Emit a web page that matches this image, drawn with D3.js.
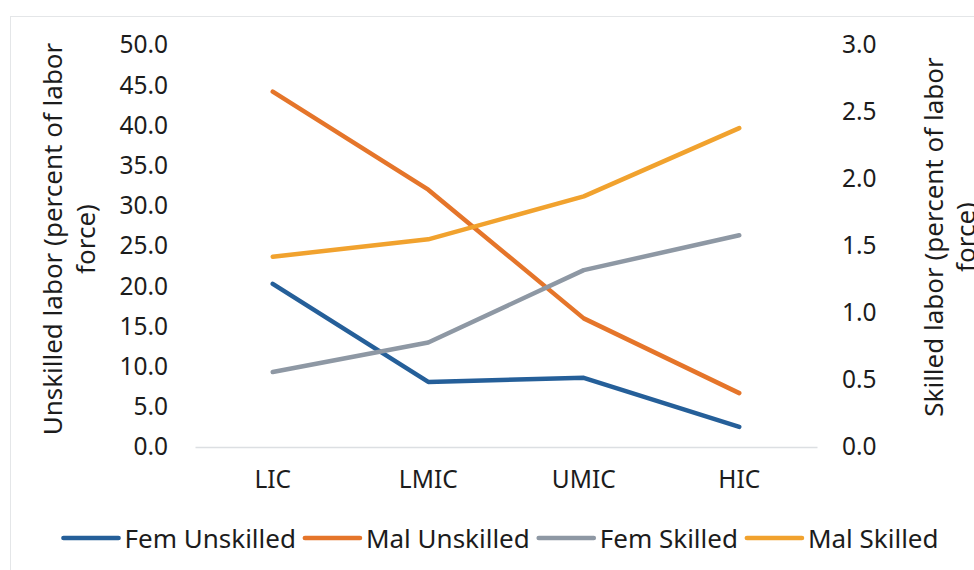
<!DOCTYPE html>
<html>
<head>
<meta charset="utf-8">
<script src="https://cdn.jsdelivr.net/npm/d3@7"></script>
<style>
  html, body { margin: 0; padding: 0; background: #fff; }
  svg { display: block; }
  .tick text { fill: #1c1c1c; }
</style>
</head>
<body>
<svg id="chart" width="974" height="570"></svg>
<script>
// Income groups along the category axis
const categories = ["LIC", "LMIC", "UMIC", "HIC"];

// Unskilled labor, percent of labor force (left axis)
const femUnskilled = [20.3, 8.1, 8.6, 2.5];
const malUnskilled = [44.2, 32.0, 16.0, 6.7];

// Skilled labor, percent of labor force (right axis)
const femSkilled = [0.56, 0.78, 1.32, 1.58];
const malSkilled = [1.42, 1.55, 1.87, 2.38];

// Axis tick values
const leftTicks = [0, 5, 10, 15, 20, 25, 30, 35, 40, 45, 50];
const rightTicks = [0, 0.5, 1.0, 1.5, 2.0, 2.5, 3.0];

const seriesList = [
  { name: "Fem Unskilled", values: femUnskilled, axis: "left",  color: "#255F99" },
  { name: "Mal Unskilled", values: malUnskilled, axis: "left",  color: "#E5752A" },
  { name: "Fem Skilled",   values: femSkilled,   axis: "right", color: "#8E98A4" },
  { name: "Mal Skilled",   values: malSkilled,   axis: "right", color: "#F1A22E" }
];

const FONT = "'Noto Sans', 'Open Sans', sans-serif";
const TEXT_COLOR = "#1c1c1c";
const svg = d3.select("#chart");

// Outer chart frame
svg.append("rect")
  .attr("x", 10.5).attr("y", 16.5)
  .attr("width", 1000).attr("height", 600)
  .attr("fill", "none").attr("stroke", "#e4e6e8").attr("stroke-width", 1);

const plot = { left: 195, right: 817, top: 45, bottom: 447 };

const x = d3.scaleBand().domain(categories).range([plot.left, plot.right]).padding(0);
const cx = c => x(c) + x.bandwidth() / 2;
const yL = d3.scaleLinear().domain([0, 50]).range([plot.bottom, plot.top]);
const yR = d3.scaleLinear().domain([0, 3]).range([plot.bottom, plot.top]);

// Left axis
const gL = svg.append("g")
  .attr("transform", `translate(${plot.left},0)`)
  .call(d3.axisLeft(yL).tickValues(leftTicks).tickFormat(d3.format(".1f")).tickSize(0).tickPadding(27));
gL.select(".domain").remove();
gL.selectAll("text").style("font-family", FONT).style("font-size", "24.5px");

// Right axis
const gR = svg.append("g")
  .attr("transform", `translate(${plot.right},0)`)
  .call(d3.axisRight(yR).tickValues(rightTicks).tickFormat(d3.format(".1f")).tickSize(0).tickPadding(25));
gR.select(".domain").remove();
gR.selectAll("text").style("font-family", FONT).style("font-size", "24.5px");

// Category axis
const gX = svg.append("g")
  .attr("transform", `translate(0,${plot.bottom})`)
  .call(d3.axisBottom(x).tickSize(0).tickSizeOuter(0).tickPadding(24));
gX.select(".domain").attr("stroke", "#dcdfe2").attr("stroke-width", 1.5);
gX.selectAll("text").style("font-family", FONT).style("font-size", "24.5px");

// Axis titles
function axisTitle(lines, xs, cy) {
  lines.forEach((t, i) => {
    svg.append("text")
      .attr("transform", `translate(${xs[i]},${cy}) rotate(-90)`)
      .attr("text-anchor", "middle")
      .attr("dominant-baseline", "central")
      .style("font-family", FONT).style("font-size", "26px")
      .attr("fill", TEXT_COLOR)
      .text(t);
  });
}
axisTitle(["Unskilled labor (percent of labor", "force)"], [52, 85], 239);
axisTitle(["Skilled labor (percent of labor", "force)"], [933, 965], 237);

// Series lines
const lineFor = s => d3.line()
  .x((d, i) => cx(categories[i]))
  .y(d => (s.axis === "left" ? yL(d) : yR(d)));

seriesList.forEach(s => {
  svg.append("path")
    .datum(s.values)
    .attr("d", lineFor(s))
    .attr("fill", "none")
    .attr("stroke", s.color)
    .attr("stroke-width", 4.5)
    .attr("stroke-linecap", "round")
    .attr("stroke-linejoin", "round");
});

// Legend
const legend = svg.append("g");
const legendY = 538;
const sampleLen = 55, textGap = 6, itemGap = 9;
let lx = 0;
seriesList.forEach(s => {
  legend.append("line")
    .attr("x1", lx).attr("x2", lx + sampleLen)
    .attr("y1", legendY).attr("y2", legendY)
    .attr("stroke", s.color).attr("stroke-width", 4.7).attr("stroke-linecap", "round");
  const t = legend.append("text")
    .attr("x", lx + sampleLen + textGap).attr("y", legendY)
    .attr("dominant-baseline", "central")
    .style("font-family", FONT)
    .style("font-size", "26px")
    .attr("fill", TEXT_COLOR)
    .text(s.name);
  lx += sampleLen + textGap + t.node().getComputedTextLength() + itemGap;
});
const legendWidth = lx - itemGap;
legend.attr("transform", `translate(${501 - legendWidth / 2},0)`);
</script>
</body>
</html>
